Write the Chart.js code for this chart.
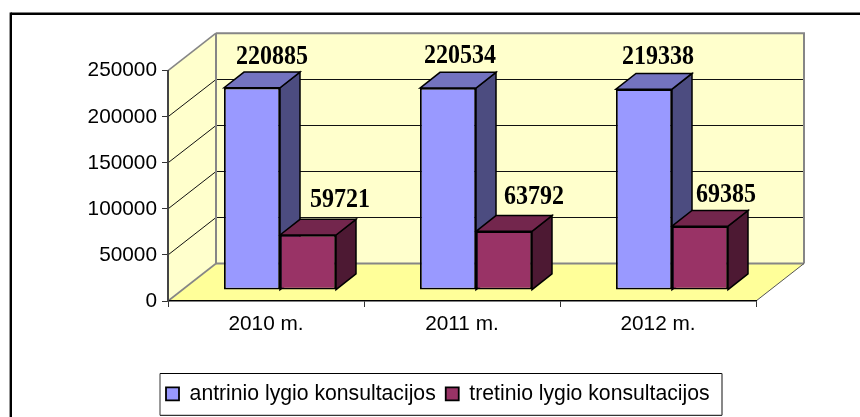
<!DOCTYPE html>
<html><head><meta charset="utf-8">
<style>html,body{margin:0;padding:0;background:#fff}canvas{display:block}</style>
<script src="https://cdn.jsdelivr.net/npm/chart.js@4"></script>
</head><body><canvas id="c" width="860" height="417"></canvas>
<script>
const categories = ['2010 m.', '2011 m.', '2012 m.'];
const antrinio = [220885, 220534, 219338];
const tretinio = [59721, 63792, 69385];
const seriesNames = ['antrinio lygio konsultacijos', 'tretinio lygio konsultacijos'];
const axisMax = 250000, axisStep = 50000;

const SANS = '"Liberation Sans", Arial, sans-serif';
const SERIF = '"Liberation Serif", "Times New Roman", serif';
const wallDepth = {x: 48, y: -37.5};
const barDepth = {x: 20, y: -15.7};
const barShift = {x: 14, y: -11.4};
const faces = [
  {front: '#9999FF', top: '#7373BF', side: '#4C4C80'},
  {front: '#993366', top: '#73264D', side: '#4D1933'}
];
// data label placement relative to each bar's top centre (dx, baseline rise)
const labelOffsets = [
  [[20, 23.3], [12, 25], [14, 25.3]],
  [[32, 27.7], [30, 27.7], [26, 23.7]]
];

function poly(ctx, pts, fill, stroke, lw) {
  ctx.beginPath();
  pts.forEach((p, i) => i ? ctx.lineTo(p[0], p[1]) : ctx.moveTo(p[0], p[1]));
  ctx.closePath();
  if (fill) { ctx.fillStyle = fill; ctx.fill(); }
  if (stroke) { ctx.strokeStyle = stroke; ctx.lineWidth = lw; ctx.stroke(); }
}
function seg(ctx, a, b, color, lw) {
  ctx.beginPath(); ctx.moveTo(a[0], a[1]); ctx.lineTo(b[0], b[1]);
  ctx.strokeStyle = color; ctx.lineWidth = lw; ctx.stroke();
}

const scene = {
  id: 'scene',
  afterLayout(chart) {
    chart.legend.left = 156;
    chart.legend.top = 373.3;
  },
  beforeDraw(chart) {
    const {ctx, chartArea: a, scales} = chart;
    const dx = wallDepth.x, dy = wallDepth.y;
    ctx.save();
    ctx.fillStyle = '#fff'; ctx.fillRect(0, 0, chart.width, chart.height);
    // outer frame
    seg(ctx, [10.8, 13.7], [chart.width, 13.7], '#000', 2.4);
    seg(ctx, [10.8, 12.5], [10.8, chart.height], '#000', 2.4);
    // walls and floor
    const L = a.left, R = a.right, T = a.top, B = a.bottom;
    poly(ctx, [[L, B], [L + dx, B + dy], [L + dx, T + dy], [L, T]], '#FFFFCC');
    poly(ctx, [[L + dx, T + dy], [R + dx, T + dy], [R + dx, B + dy], [L + dx, B + dy]], '#FFFFCC');
    poly(ctx, [[L, B], [L + dx, B + dy], [R + dx, B + dy], [R, B]], '#FFFF99');
    // gridlines follow the value axis ticks
    scales.y.ticks.forEach(t => {
      if (t.value === 0 || t.value === axisMax) return;
      const y = scales.y.getPixelForValue(t.value);
      const by = Math.floor(y + dy) + 0.5;
      seg(ctx, [L, y], [L + dx, by], '#111', 1);
      seg(ctx, [L + dx, by], [R + dx, by], '#111', 1);
    });
    // edges
    const edge = '#868686';
    seg(ctx, [L, T], [L + dx, T + dy], edge, 1.6);
    seg(ctx, [L + dx, T + dy], [R + dx + 1, T + dy], edge, 2);
    seg(ctx, [R + dx, T + dy], [R + dx, B + dy], edge, 2);
    seg(ctx, [L + dx, T + dy], [L + dx, B + dy], edge, 2);
    seg(ctx, [L + dx, B + dy], [R + dx, B + dy], edge, 2);
    seg(ctx, [L, B], [L + dx, B + dy], edge, 1.6);
    seg(ctx, [R, B], [R + dx, B + dy], '#555', 1);
    ctx.restore();
  },
  beforeDatasetsDraw(chart) {
    const {ctx} = chart;
    ctx.save();
    ctx.translate(barShift.x, barShift.y);
    ctx.lineJoin = 'miter';
    const dx = barDepth.x, dy = barDepth.y;
    // tops and sides go behind the front faces the library draws
    chart.data.datasets.forEach((ds, di) => {
      chart.getDatasetMeta(di).data.forEach(el => {
        const l = el.x - el.width / 2, r = el.x + el.width / 2, t = el.y, b = el.base;
        poly(ctx, [[r, t], [r + dx, t + dy], [r + dx, b + dy], [r, b]], faces[di].side, '#000', 1.5);
        poly(ctx, [[l, t], [l + dx, t + dy], [r + dx, t + dy], [r, t]], faces[di].top, '#000', 1.5);
      });
    });
    // the translation stays on for the library's own bars
  },
  afterDatasetsDraw(chart) {
    const {ctx} = chart;
    ctx.restore();
    ctx.font = 'bold 24px ' + SERIF;
    ctx.textAlign = 'center';
    ctx.textBaseline = 'alphabetic';
    ctx.fillStyle = '#000';
    chart.data.datasets.forEach((ds, di) => {
      chart.getDatasetMeta(di).data.forEach((el, i) => {
        const o = labelOffsets[di][i];
        ctx.save();
        ctx.translate(el.x + barShift.x + o[0], el.y + barShift.y - o[1]);
        ctx.scale(1, 1.1);
        ctx.fillText(String(ds.data[i]), 0, 0);
        ctx.restore();
      });
    });
  },
  afterDraw(chart) {
    const {ctx} = chart;
    ctx.save();
    // legend box
    seg(ctx, [160, 373.5], [722, 373.5], '#000', 1);
    seg(ctx, [160, 415.3], [722, 415.3], '#000', 1);
    seg(ctx, [160, 373.5], [160, 415.3], '#333', 1);
    seg(ctx, [722, 373.5], [722, 415.3], '#555', 1.4);
    ctx.restore();
  }
};

function ds(label, data, di) {
  return {
    label, data, yAxisID: 'yBars', clip: false,
    backgroundColor: faces[di].front,
    borderColor: '#000',
    borderWidth: 1.8,
    borderSkipped: false,
    categoryPercentage: 112 / 196,
    barPercentage: 1
  };
}

new Chart(document.getElementById('c'), {
  type: 'bar',
  plugins: [scene],
  data: {
    labels: categories,
    datasets: [ds(seriesNames[0], antrinio, 0), ds(seriesNames[1], tretinio, 1)]
  },
  options: {
    responsive: false,
    animation: false,
    events: [],
    layout: {padding: {left: 88, right: 104, top: 70.7, bottom: 1.8}},
    plugins: {
      tooltip: {enabled: false},
      title: {display: false},
      legend: {
        display: true, position: 'bottom', align: 'start',
        labels: {
          boxWidth: 13, boxHeight: 13, padding: 10,
          color: '#000', font: {family: SANS, size: 21.2}
        }
      }
    },
    scales: {
      x: {
        afterFit(s) { s.height = 73; },
        grid: {display: true, drawOnChartArea: false, drawTicks: true, tickLength: 6, color: '#333', lineWidth: 1},
        border: {display: true, color: '#000', width: 1.5},
        ticks: {color: '#000', padding: 5, maxRotation: 0, font: {family: SANS, size: 20.8}}
      },
      y: {
        min: 0, max: axisMax,
        afterFit(s) { s.width = 80; },
        grid: {display: true, drawOnChartArea: false, drawTicks: true, tickLength: 6, color: '#333', lineWidth: 1},
        border: {display: true, color: '#444', width: 2},
        ticks: {stepSize: axisStep, color: '#000', padding: 5, font: {family: SANS, size: 20.8},
                callback: v => String(v)}
      },
      yBars: {display: false, min: 0, max: 252000}
    }
  }
});
</script></body></html>
